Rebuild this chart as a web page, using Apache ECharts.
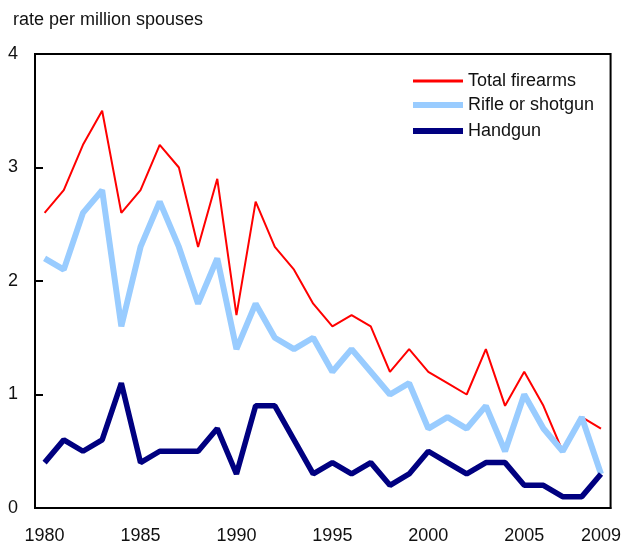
<!DOCTYPE html>
<html>
<head>
<meta charset="utf-8">
<script src="https://cdn.jsdelivr.net/npm/echarts@6/dist/echarts.min.js"></script>
<style>
  html, body { margin: 0; padding: 0; background: #fff; }
  #chart { width: 624px; height: 548px; }
</style>
</head>
<body>
<div id="chart"></div>
<script>
// years on the x axis
const years = [];
for (let y = 1980; y <= 2009; y++) years.push(String(y));

// rate per million spouses
const totalFirearms = [2.6, 2.8, 3.2, 3.5, 2.6, 2.8, 3.2, 3.0, 2.3, 2.9, 1.7, 2.7, 2.3, 2.1, 1.8,
  1.6, 1.7, 1.6, 1.2, 1.4, 1.2, 1.1, 1.0, 1.4, 0.9, 1.2, 0.9, 0.5, 0.8, 0.7];
const rifleShotgun = [2.2, 2.1, 2.6, 2.8, 1.6, 2.3, 2.7, 2.3, 1.8, 2.2, 1.4, 1.8, 1.5, 1.4, 1.5,
  1.2, 1.4, 1.2, 1.0, 1.1, 0.7, 0.8, 0.7, 0.9, 0.5, 1.0, 0.7, 0.5, 0.8, 0.3];
const handgun = [0.4, 0.6, 0.5, 0.6, 1.1, 0.4, 0.5, 0.5, 0.5, 0.7, 0.3, 0.9, 0.9, 0.6, 0.3,
  0.4, 0.3, 0.4, 0.2, 0.3, 0.5, 0.4, 0.3, 0.4, 0.4, 0.2, 0.2, 0.1, 0.1, 0.3];

const font = 'Liberation Sans, Arial, Helvetica, sans-serif';

const legendItem = (name, color, h, top) => ({
  data: [{ name: name, icon: 'rect', itemStyle: { color: color } }],
  left: 413,
  top: top,
  padding: 0,
  itemWidth: 50,
  itemHeight: h,
  itemGap: 0,
  textStyle: { fontFamily: font, fontSize: 18, color: '#111' }
});

const chart = echarts.init(document.getElementById('chart'));
chart.setOption({
  animation: false,
  title: {
    text: 'rate per million spouses',
    left: 8,
    top: 6,
    textStyle: { fontFamily: font, fontSize: 18, fontWeight: 'normal', color: '#111' }
  },
  legend: [
    legendItem('Total firearms', '#ff0000', 3, 72),
    legendItem('Rifle or shotgun', '#99ccff', 6, 96),
    legendItem('Handgun', '#000080', 6, 122)
  ],
  grid: {
    left: 35,
    right: 13,
    top: 54,
    bottom: 40,
    show: true,
    borderColor: '#000',
    borderWidth: 2
  },
  xAxis: {
    type: 'category',
    data: years,
    boundaryGap: true,
    axisLine: { lineStyle: { color: '#000', width: 2 } },
    axisTick: { inside: true, length: 7, interval: 0, lineStyle: { color: '#000', width: 2 } },
    axisLabel: {
      interval: (i) => i % 5 === 0 || i === years.length - 1,
      margin: 19,
      fontFamily: font,
      fontSize: 18,
      color: '#111'
    },
    splitLine: { show: false }
  },
  yAxis: {
    type: 'value',
    min: 0,
    max: 4,
    interval: 1,
    axisLine: { show: true, lineStyle: { color: '#000', width: 2 } },
    axisTick: { show: true, inside: true, length: 8, lineStyle: { color: '#000', width: 2 } },
    axisLabel: { margin: 17, fontFamily: font, fontSize: 18, color: '#111' },
    splitLine: { show: false }
  },
  series: [
    {
      name: 'Total firearms',
      type: 'line',
      data: totalFirearms,
      showSymbol: false,
      symbol: 'none',
      lineStyle: { color: '#ff0000', width: 2 },
      itemStyle: { color: '#ff0000' }
    },
    {
      name: 'Rifle or shotgun',
      type: 'line',
      data: rifleShotgun,
      showSymbol: false,
      symbol: 'none',
      lineStyle: { color: '#99ccff', width: 6 },
      itemStyle: { color: '#99ccff' }
    },
    {
      name: 'Handgun',
      type: 'line',
      data: handgun,
      showSymbol: false,
      symbol: 'none',
      lineStyle: { color: '#000080', width: 5.5 },
      itemStyle: { color: '#000080' }
    }
  ]
});
</script>
</body>
</html>
